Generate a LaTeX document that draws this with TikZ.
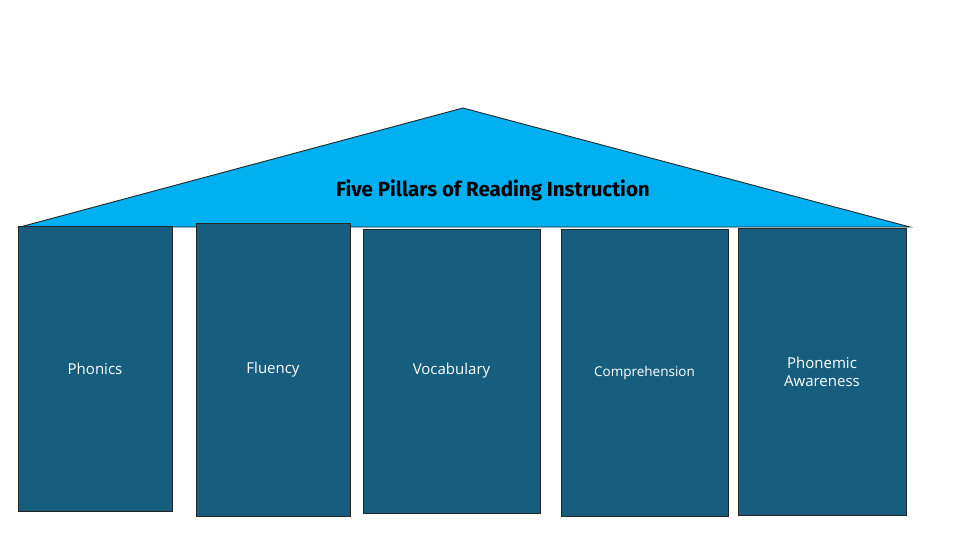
\documentclass[tikz,border=0pt]{standalone}
\usepackage{fontspec}
\setmainfont{Open Sans}
\newfontfamily\titlefont{Fira Sans}
\begin{document}
\begin{tikzpicture}[x=1pt,y=-1pt,
  pillar/.style={draw=black!85, line width=0.8pt, fill=pillarblue, text=white, font=\fontsize{15}{18}\selectfont, align=center},
  roof/.style={draw=black!85, line width=0.9pt, fill=roofblue}]
\definecolor{pillarblue}{HTML}{175E7E}
\definecolor{roofblue}{HTML}{00B0F0}
\useasboundingbox (0,0) rectangle (980,538);
\filldraw[roof] (20,227) -- (463,108) -- (910,227) -- cycle;
\node[font=\titlefont\bfseries\fontsize{20.5}{24}\selectfont] (title) at (493,190) {Five Pillars of Reading Instruction};
\path[pillar] (18,226) rectangle (172,511) node[midway] (p1) {Phonics};
\path[pillar] (196,223) rectangle (350,516) node[midway] (p2) {Fluency};
\path[pillar] (363,229) rectangle (540,513) node[midway] (p3) {Vocabulary};
\path[pillar] (561,229) rectangle (728,516) node[midway,font=\fontsize{13.5}{16}\selectfont] (p4) {Comprehension};
\path[pillar] (738,228) rectangle (906,515) node[midway] (p5) {Phonemic\\Awareness};
\end{tikzpicture}
\end{document}
